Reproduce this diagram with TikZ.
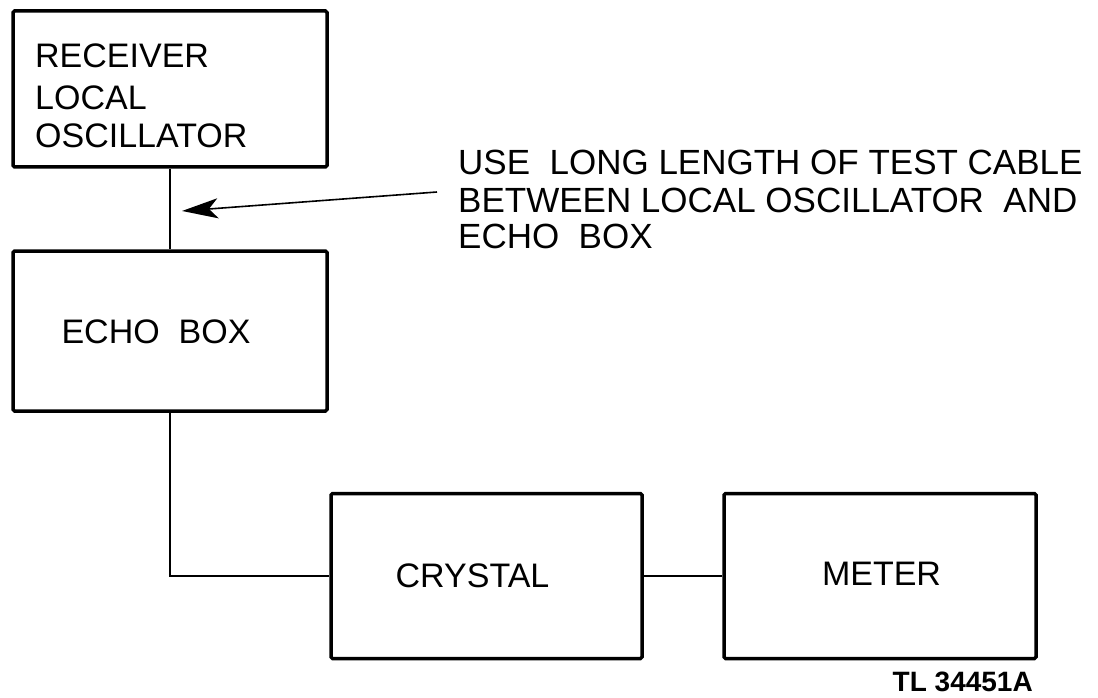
\documentclass[tikz,border=0pt]{standalone}
\usepackage{fontspec}
\setmainfont{Liberation Sans}
\usetikzlibrary{arrows.meta}
\begin{document}
\begin{tikzpicture}[x=1pt,y=-1pt]
\tikzset{
 blk/.style={draw, line width=3.5pt, rounded corners=1.5pt, inner sep=0pt},
 wire/.style={line width=1.6pt},
 lbl/.style={font=\fontsize{34}{40}\selectfont, inner sep=0pt, anchor=base west},
 note/.style={font=\fontsize{35}{36}\selectfont, inner sep=0pt, anchor=base west},
 tag/.style={font=\bfseries\fontsize{28}{30}\selectfont, inner sep=0pt, anchor=base east},
}
\fill[white] (0,0) rectangle (1098,698);
\useasboundingbox (0,0) rectangle (1098,698);

\node[blk, minimum width=314pt, minimum height=156pt] (rlo) at (170,89) {};
\node[lbl] (rlo1) at (35,68) {RECEIVER};
\node[lbl] (rlo2) at (35,110) {LOCAL};
\node[lbl] (rlo3) at (35,148) {OSCILLATOR};

\node[blk, minimum width=314pt, minimum height=160pt] (echo) at (170,331) {};
\node[lbl, anchor=base] (echot) at (156,343) {ECHO\ \ BOX};

\node[blk, minimum width=311pt, minimum height=165pt] (crystal) at (486.5,576) {};
\node[lbl, anchor=base] (crystalt) at (472.5,587) {CRYSTAL};

\node[blk, minimum width=312pt, minimum height=165pt] (meter) at (880,576) {};
\node[lbl, anchor=base] (metert) at (881.5,585) {METER};

\node[note] (n1) at (458,175) {USE\ \ LONG LENGTH OF TEST CABLE};
\node[note] (n2) at (458,212) {BETWEEN LOCAL OSCILLATOR\ \ AND};
\node[note] (n3) at (458,248) {ECHO\ \ BOX};

\node[tag] (fig) at (1033,691) {TL 34451A};

\coordinate (as) at (437,192);
\coordinate (at) at (182,211);
\draw[wire, -{Stealth[length=36pt,width=20pt,inset=9pt]}] (as) -- (at);

\draw[wire] (rlo.south) -- (echo.north);
\draw[wire] (echo.south) |- (crystal.west);
\draw[wire] (crystal.east) -- (meter.west);
\end{tikzpicture}
\end{document}
